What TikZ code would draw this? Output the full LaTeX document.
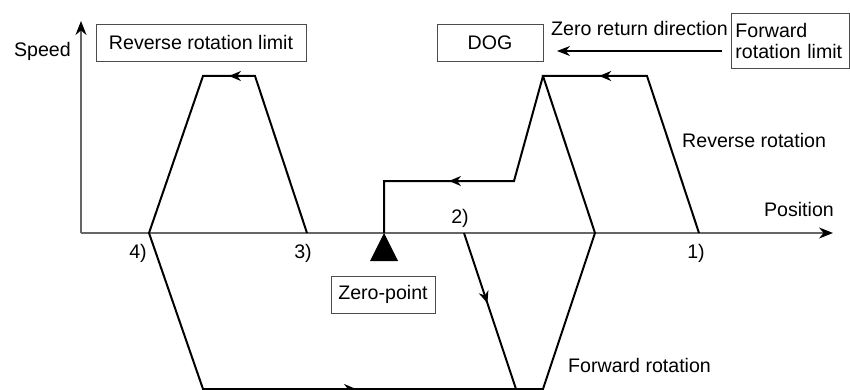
\documentclass[tikz,border=0pt]{standalone}
\usepackage{fontspec}
\setmainfont{Liberation Sans}
\usetikzlibrary{arrows.meta,decorations.markings}
\begin{document}
\begin{tikzpicture}[x=1pt,y=-1pt,
  every node/.style={font=\fontsize{19.6}{21}\selectfont, inner sep=0pt},
  boxnode/.style={draw=black!70, line width=0.9pt, inner sep=0pt},
  axisline/.style={draw=black!60, line width=1.6pt, -{Stealth[length=14pt,width=11pt,color=black]}},
  pathline/.style={line width=2pt, line join=miter},
  midarrow/.style={postaction={decorate}, decoration={markings, mark=at position #1 with {\arrow{Stealth[length=12pt,width=10pt]}}}},
]
\useasboundingbox (0,0) rectangle (850,390);
% coordinates
\coordinate (O) at (81,233);
\coordinate (ytop) at (81,21);
\coordinate (xend) at (833,233);
\coordinate (p1) at (699,233);
\coordinate (a) at (647,76);
\coordinate (b) at (543,76);
\coordinate (c) at (595,233);
\coordinate (d) at (543,389);
\coordinate (e) at (203,389);
\coordinate (p4) at (149,233);
\coordinate (f) at (203,76);
\coordinate (g) at (255,76);
\coordinate (p3) at (307,233);
\coordinate (p2) at (464,233);
\coordinate (h) at (516,389);
\coordinate (zp0) at (384,233);
\coordinate (i) at (384,181);
\coordinate (j) at (514,181);
\coordinate (zra) at (722,51);
\coordinate (zrb) at (557,51);
% axes
\draw[axisline] (O) -- (ytop);
\draw[axisline] (O) -- (xend);
% paths
\draw[pathline] (p1) -- (a) -- (b) -- (c) -- (d) -- (e) -- (p4) -- (f) -- (g) -- (p3);
\draw[pathline, midarrow=0.46] (a) -- (b);
\draw[pathline, midarrow=0.45] (e) -- (d);
\draw[pathline, midarrow=0.5] (g) -- (f);
\draw[pathline, midarrow=0.45] (p2) -- (h);
\draw[pathline] (zp0) -- (i) -- (j) -- (b);
\draw[pathline, midarrow=0.5] (j) -- (i);
% zero point marker
\fill (zp0) -- (398,261) -- (370,261) -- cycle;
% zero return direction arrow
\draw[line width=1.2pt, -{Stealth[length=13pt,width=10pt]}] (zra) -- (zrb);
% labels
\node[anchor=base east] (speed) at (71,57) {Speed};
\node[anchor=base east] (position) at (834,216) {Position};
\node[anchor=base] (n1) at (696,258) {1)};
\node[anchor=base] (n2) at (460,223) {2)};
\node[anchor=base] (n3) at (303,258) {3)};
\node[anchor=base] (n4) at (138,258) {4)};
\node[anchor=base west] (rev) at (682,148) {Reverse rotation};
\node[anchor=base west] (fwd) at (568,372) {Forward rotation};
\node[anchor=base west] (zrd) at (551,36) {Zero return direction};
% boxes
\node[boxnode, minimum width=210pt, minimum height=37pt] (rrl) at (201,42.5) {Reverse rotation limit};
\node[boxnode, minimum width=106pt, minimum height=37pt] (dog) at (490,42.5) {DOG};
\node[boxnode, minimum width=104pt, minimum height=37pt] (zp) at (383,294.5) {Zero-point};
\node[boxnode, anchor=north west, text width=110pt, align=left, minimum height=55pt, inner xsep=4pt] (frl) at (731,13) {Forward\\rotation limit};
\end{tikzpicture}
\end{document}
